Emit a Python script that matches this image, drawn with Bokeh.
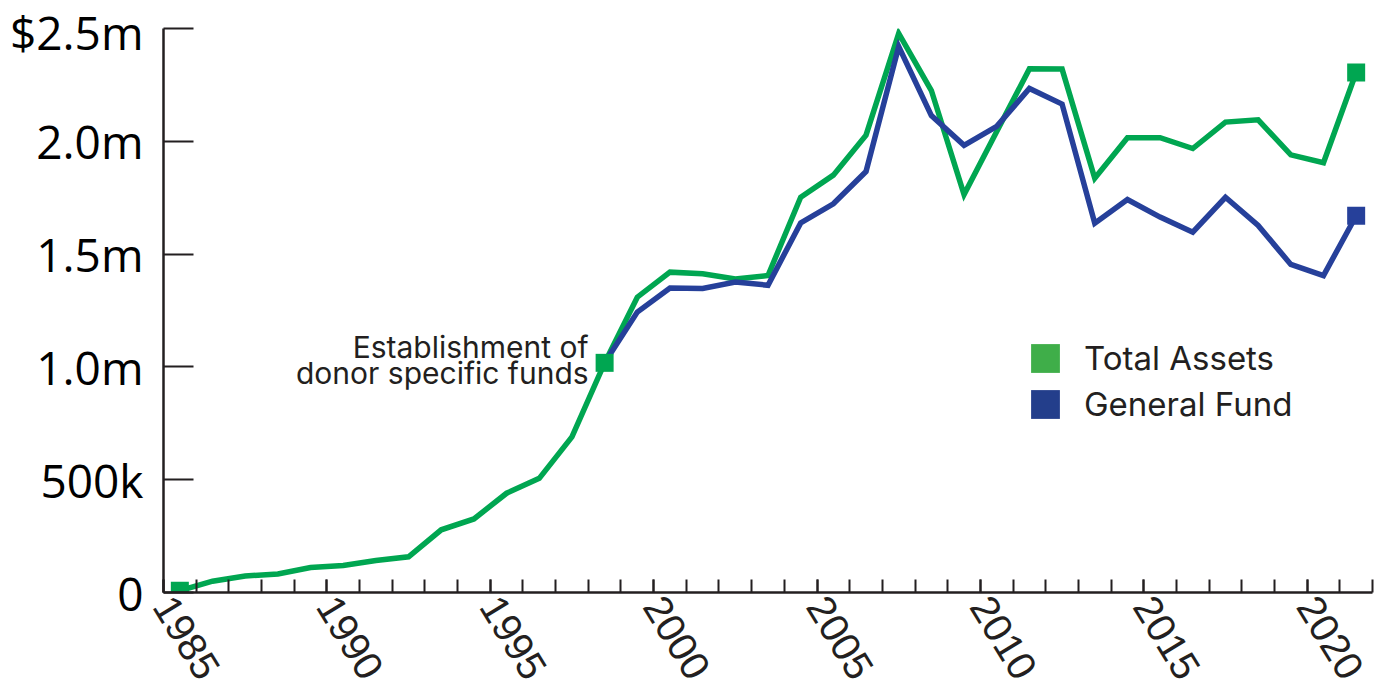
from bokeh.plotting import figure
from bokeh.models import (FixedTicker, CustomJSTickFormatter, Legend, LegendItem,
                          Label, Range1d)
from bokeh.embed import file_html
from bokeh.resources import INLINE

# ---------------- data ----------------
years = list(range(1985, 2022))
total_assets = [8000, 50000, 73000, 82000, 111000, 120000, 142000, 158000, 278000,
                326000, 440000, 506000, 690000, 1018000, 1309000, 1420000, 1413000,
                1390000, 1405000, 1752000, 1850000, 2027000, 2478000, 2225000,
                1764000, 2043000, 2321000, 2320000, 1836000, 2016000, 2016000,
                1968000, 2085000, 2095000, 1940000, 1905000, 2305000]
general_fund_years = list(range(1998, 2022))
general_fund = [1018000, 1243000, 1350000, 1348000, 1376000, 1362000, 1638000,
                1723000, 1866000, 2420000, 2114000, 1982000, 2066000, 2234000,
                2165000, 1637000, 1742000, 1664000, 1597000, 1752000, 1627000,
                1454000, 1405000, 1670000]
marked_years_total = [1985, 1998, 2021]
marked_years_general = [2021]
y_ticks = [0, 500000, 1000000, 1500000, 2000000, 2500000]
y_tick_labels = ["0", "500k", "1.0m", "1.5m", "2.0m", "$2.5m"]
label_years = [1985, 1990, 1995, 2000, 2005, 2010, 2015, 2020]
series_names = ["Total Assets", "General Fund"]
annotation_year = 1998
annotation_lines = ["Establishment of", "donor specific funds"]

# ---------------- style ----------------
GREEN = "#00a651"
BLUE = "#26409a"
LEG_GREEN = "#3fae49"
LEG_BLUE = "#233e8b"
INK = "#231f20"

p = figure(width=1382, height=692, output_backend="svg", toolbar_location=None,
           x_range=Range1d(years[0] - 0.5, years[-1] + 0.5),
           y_range=Range1d(y_ticks[0], y_ticks[-1]),
           min_border_left=163, min_border_right=10, min_border_top=28,
           min_border_bottom=100)
p.outline_line_color = None
p.grid.visible = False
p.background_fill_color = "white"
p.border_fill_color = "white"

# lines
p.line(years, total_assets, line_color=GREEN, line_width=5.5, line_join="miter")
p.line(general_fund_years, general_fund, line_color=BLUE, line_width=5.5, line_join="miter")

# end / event markers
p.scatter(marked_years_total,
          [total_assets[years.index(y)] for y in marked_years_total],
          marker="square", size=18, fill_color=GREEN, line_color=None)
p.scatter(marked_years_general,
          [general_fund[general_fund_years.index(y)] for y in marked_years_general],
          marker="square", size=18, fill_color=BLUE, line_color=None)

# x axis
xa = p.xaxis[0]
xa.ticker = FixedTicker(ticks=[y - 0.5 for y in label_years],
                        minor_ticks=[y - 0.5 for y in years] + [years[-1] + 0.5])
xa.formatter = CustomJSTickFormatter(code="return (tick + 0.5).toFixed(0);")
xa.major_label_orientation = -1.02
xa.major_label_text_font = "Liberation Sans"
xa.major_label_text_font_size = "40px"
xa.major_label_text_color = INK
xa.major_label_standoff = 7
xa.axis_line_color = INK
xa.axis_line_width = 2.5
xa.major_tick_in = 13
xa.major_tick_out = 0
xa.minor_tick_in = 13
xa.minor_tick_out = 0
xa.major_tick_line_color = INK
xa.minor_tick_line_color = INK
xa.major_tick_line_width = 2
xa.minor_tick_line_width = 2

# y axis
ya = p.yaxis[0]
ya.ticker = FixedTicker(ticks=y_ticks)
ya.major_label_overrides = {t: l for t, l in zip(y_ticks, y_tick_labels)}
ya.major_label_text_font = "Open Sans"
ya.major_label_text_font_size = "46px"
ya.major_label_text_color = "black"
ya.major_label_standoff = 20
ya.axis_line_color = INK
ya.axis_line_width = 2.5
ya.major_tick_in = 30
ya.major_tick_out = 0
ya.minor_tick_line_color = None
ya.major_tick_line_color = INK
ya.major_tick_line_width = 2

# annotation
ann_y = total_assets[years.index(annotation_year)]
for text, dy in zip(annotation_lines, [16, -10]):
    p.add_layout(Label(x=annotation_year, y=ann_y, x_offset=-16, y_offset=dy,
                       text=text, text_align="right", text_baseline="alphabetic",
                       text_font="Inter", text_font_size="30px", text_color=INK))

# legend (swatch-only renderers: a single NaN row so nothing is drawn in the plot)
nan = float("nan")
r_total = p.quad(left=[nan], right=[nan], top=[nan], bottom=[nan],
                 fill_color=LEG_GREEN, line_color=None)
r_general = p.quad(left=[nan], right=[nan], top=[nan], bottom=[nan],
                   fill_color=LEG_BLUE, line_color=None)
legend = Legend(items=[LegendItem(label=series_names[0], renderers=[r_total]),
                       LegendItem(label=series_names[1], renderers=[r_general])],
                location=(864, 168), orientation="vertical",
                glyph_width=36, glyph_height=36, spacing=6, padding=0, margin=0,
                label_standoff=21, label_text_font="Inter",
                label_text_font_size="33px", label_text_color=INK,
                border_line_color=None, background_fill_alpha=0)
p.add_layout(legend)

open("out.html", "w").write(file_html(p, INLINE))
